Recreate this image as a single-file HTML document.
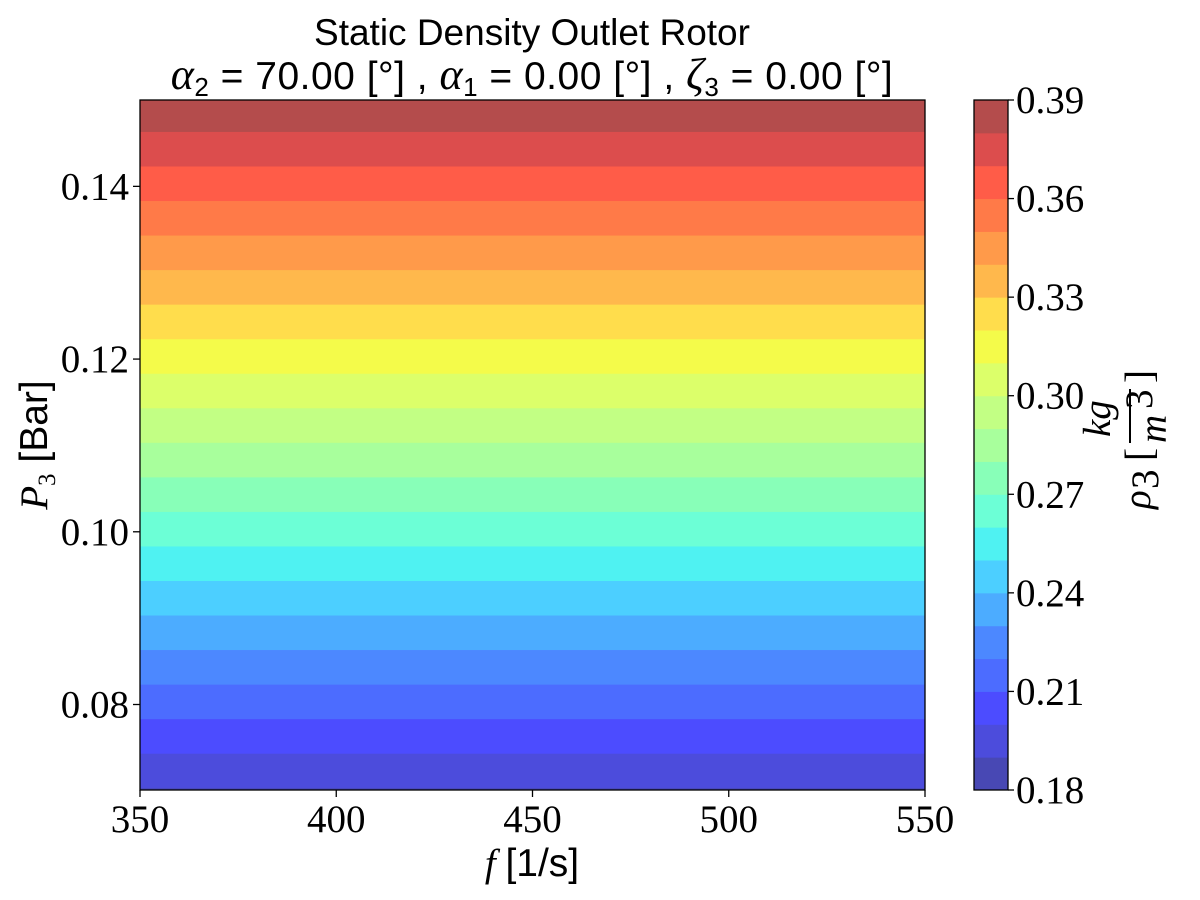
<!DOCTYPE html>
<html><head><meta charset="utf-8"><style>
html,body{margin:0;padding:0;background:#fff}
svg{display:block}
.tk{font-family:"Liberation Serif",serif;font-size:39px;fill:#000}
.sn{font-family:"Liberation Sans",sans-serif;fill:#000}
.mi{font-family:"Liberation Serif",serif;font-style:italic}
</style></head><body>
<svg id="chart" width="1200" height="900" xmlns="http://www.w3.org/2000/svg">
<text class="sn" x="532" y="45" font-size="37" text-anchor="middle">Static Density Outlet Rotor</text>
<text class="sn" x="532" y="89" font-size="39" text-anchor="middle" letter-spacing="0.5"><tspan class="mi" font-size="44">α</tspan><tspan font-size="26" dy="7">2</tspan><tspan dy="-7"> = 70.00 [°] , </tspan><tspan class="mi" font-size="44">α</tspan><tspan font-size="26" dy="7">1</tspan><tspan dy="-7"> = 0.00 [°] , </tspan><tspan class="mi" font-size="44">ζ</tspan><tspan font-size="26" dy="7">3</tspan><tspan dy="-7"> = 0.00 [°]</tspan></text>
<g id="plot"></g>
<g id="xaxis"></g>
<g id="yaxis"></g>
<g id="cbar"></g>
<text class="tk" x="532" y="876" font-size="38" text-anchor="middle"><tspan class="mi">f</tspan>  <tspan font-family="Liberation Sans, sans-serif">[1/s]</tspan></text>
<text class="tk" transform="translate(47,445) rotate(-90)" font-size="38" text-anchor="middle"><tspan class="mi">P</tspan><tspan font-size="25" dy="8">3</tspan><tspan dy="-8" font-family="Liberation Sans, sans-serif"> [Bar]</tspan></text>
<g transform="translate(1130,445) rotate(-90)">
<text class="tk mi" x="-64" y="20" font-size="40">ρ</text>
<text class="tk" x="-44" y="28" font-size="24">3</text>
<text class="tk" x="-16" y="22" font-size="50">[</text>
<text class="tk" x="62" y="22" font-size="50">]</text>
<line x1="2" y1="0" x2="56" y2="0" stroke="#000" stroke-width="2"/>
<text class="tk mi" x="8" y="-20" font-size="36">kg</text>
<text class="tk mi" x="2" y="36" font-size="36">m</text>
<text class="tk" x="36" y="22" font-size="22">3</text>
</g>
</svg>
<script>
const pressures=[0.07,0.08,0.09,0.10,0.11,0.12,0.13,0.14,0.15];
const densities=[0.1891,0.2141,0.2391,0.2641,0.2891,0.3141,0.3391,0.3641,0.3891];
const levels=[0.18,0.19,0.20,0.21,0.22,0.23,0.24,0.25,0.26,0.27,0.28,0.29,0.30,0.31,0.32,0.33,0.34,0.35,0.36,0.37,0.38,0.39];
const xTicks=[350,400,450,500,550];
const yTicks=[0.08,0.10,0.12,0.14];
const cTicks=[0.18,0.21,0.24,0.27,0.30,0.33,0.36,0.39];
const colors=["#4848b4","#4c4cdc","#4c4cff","#4c6cff","#4c88ff","#4cacff","#4ccfff","#4ff2f2","#6cffd6","#88ffb8","#a8ff9c","#c2ff84","#dcff6a","#f4fb4a","#ffdd4c","#ffb84c","#ff9a4a","#ff7a48","#ff5c48","#dc4d4d","#b44c4c"];
const NS="http://www.w3.org/2000/svg";
const X0=140,X1=925,Y0=100,Y1=790;
const xs=v=>X0+(v-350)/(550-350)*(X1-X0);
const ys=v=>Y1-(v-0.0701)/(0.15-0.0701)*(Y1-Y0);
const cy=v=>Y1-(v-0.18)/(0.39-0.18)*(Y1-Y0);
function mk(tag,attrs,parent){const e=document.createElementNS(NS,tag);for(const k in attrs)e.setAttribute(k,attrs[k]);parent.appendChild(e);return e;}
function pAt(r){
  if(r<=densities[0])return pressures[0]-(densities[0]-r)/(densities[1]-densities[0])*(pressures[1]-pressures[0]);
  for(let i=0;i<densities.length-1;i++){if(r<=densities[i+1]){return pressures[i]+(r-densities[i])/(densities[i+1]-densities[i])*(pressures[i+1]-pressures[i]);}}
  const n=densities.length-1;return pressures[n]+(r-densities[n])/(densities[n]-densities[n-1])*(pressures[n]-pressures[n-1]);
}
const plot=document.getElementById('plot');
for(let i=0;i<levels.length-1;i++){
  let yb=ys(pAt(levels[i])),yt=ys(pAt(levels[i+1]));
  yb=Math.min(yb,Y1);yt=Math.max(yt,Y0);
  if(yb<=yt)continue;
  const r=mk('rect',{x:X0,y:yt,width:X1-X0,height:yb-yt+0.5,fill:colors[i]},plot);
  
  
}
mk('rect',{x:X0,y:Y0,width:X1-X0,height:Y1-Y0,fill:'none',stroke:'#000','stroke-width':1.3},plot);
const xa=document.getElementById('xaxis');
xTicks.forEach(v=>{
  mk('line',{x1:xs(v),y1:Y1,x2:xs(v),y2:Y1+7,stroke:'#000','stroke-width':1.3},xa);
  const t=mk('text',{x:xs(v),y:Y1+42,'text-anchor':'middle',class:'tk'},xa);t.textContent=v;
  
  
});
const ya=document.getElementById('yaxis');
yTicks.forEach(v=>{
  mk('line',{x1:X0-7,y1:ys(v),x2:X0,y2:ys(v),stroke:'#000','stroke-width':1.3},ya);
  const t=mk('text',{x:X0-11,y:ys(v)+13,'text-anchor':'end',class:'tk'},ya);t.textContent=v.toFixed(2);
  
  
});
const cb=document.getElementById('cbar');
const CX=974,CW=34;
for(let i=0;i<levels.length-1;i++){
  const r=mk('rect',{x:CX,y:cy(levels[i+1]),width:CW,height:cy(levels[i])-cy(levels[i+1])+0.5,fill:colors[i]},cb);
  
  
}
mk('rect',{x:CX,y:Y0,width:CW,height:Y1-Y0,fill:'none',stroke:'#000','stroke-width':1.3},cb);
cTicks.forEach(v=>{
  mk('line',{x1:CX+CW,y1:cy(v),x2:CX+CW+6,y2:cy(v),stroke:'#000','stroke-width':1.3},cb);
  const t=mk('text',{x:CX+CW+8,y:cy(v)+13,class:'tk'},cb);t.textContent=v.toFixed(2);
  
  
});
</script>
</body></html>
